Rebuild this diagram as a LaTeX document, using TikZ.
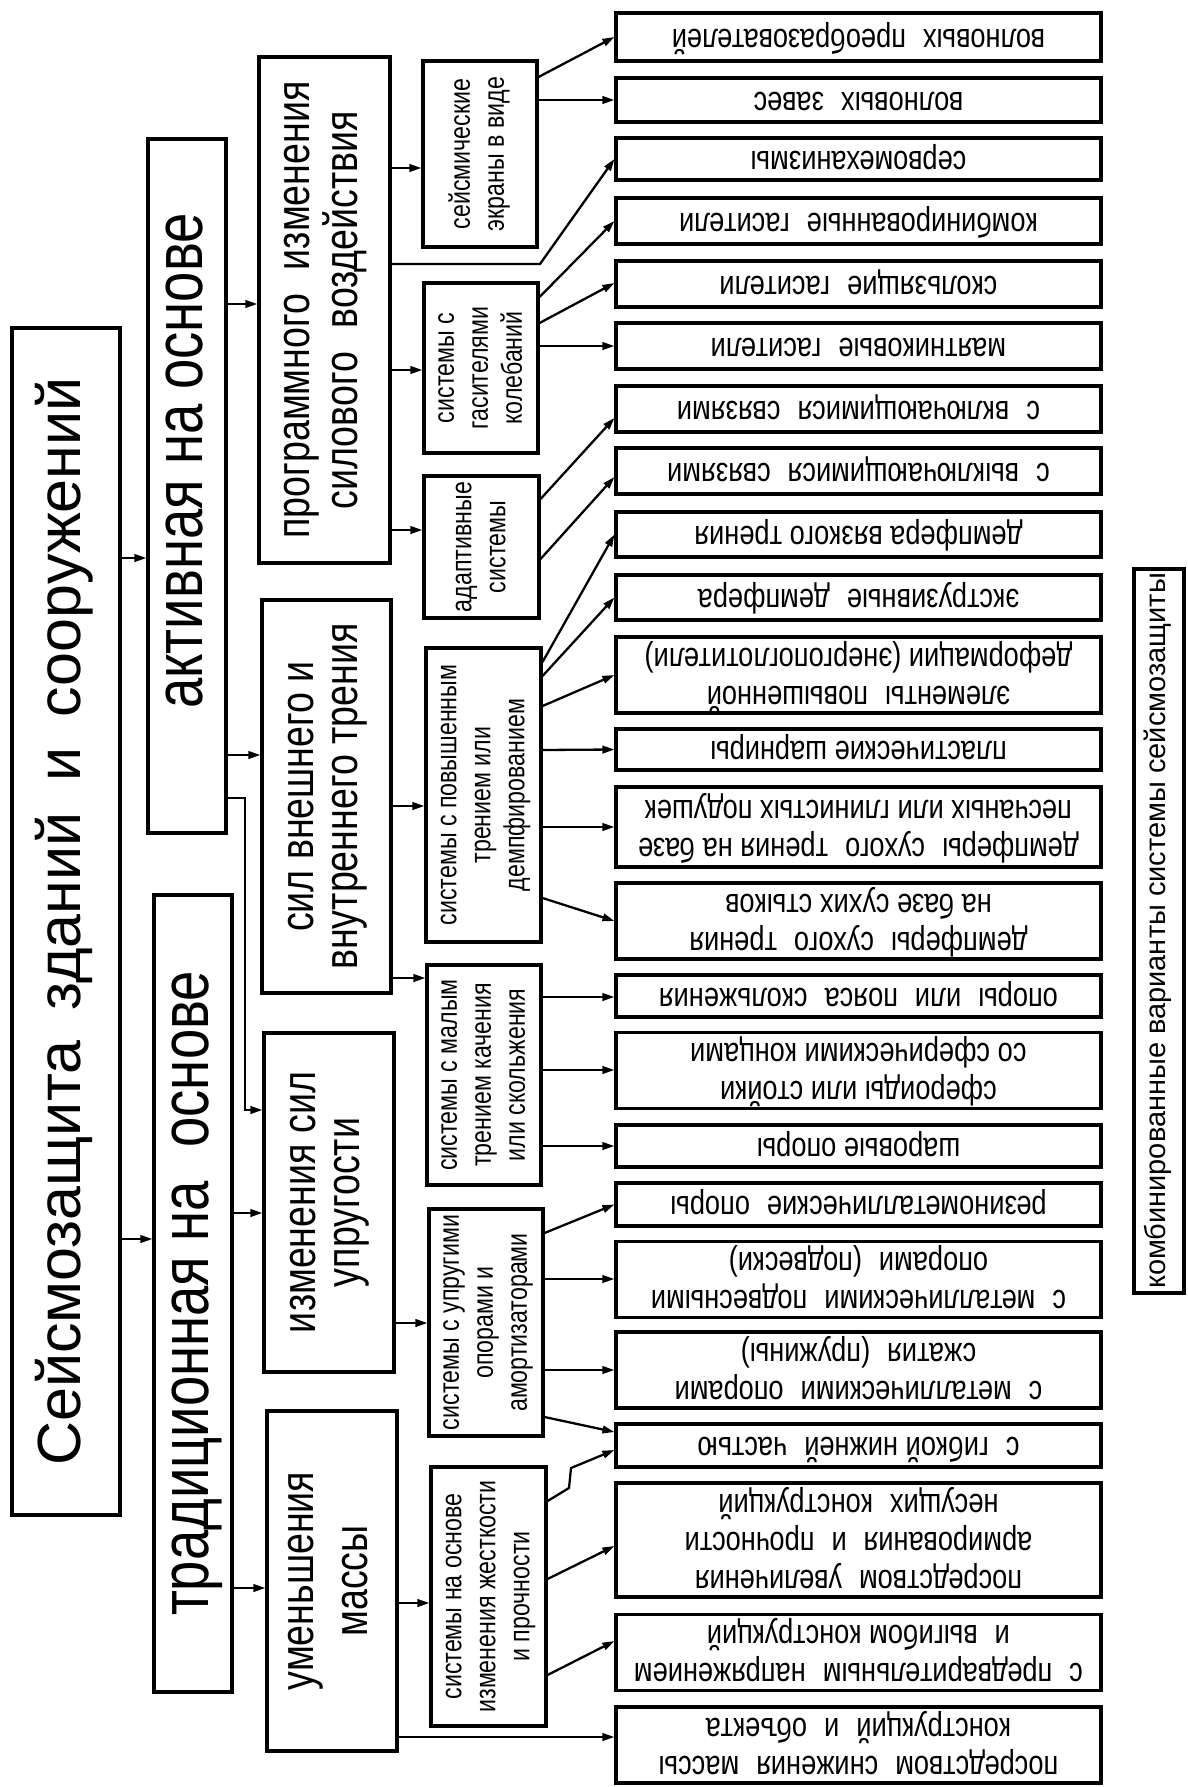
\documentclass[tikz,border=0pt]{standalone}
\usepackage{fontspec}
\setmainfont{Liberation Sans}
\newfontfamily\narrowsans[FakeStretch=0.8]{Liberation Sans}
\usepackage{graphicx}
\usetikzlibrary{arrows.meta}
\newcommand\ftitle{\fontsize{61}{70}\selectfont}
\newcommand\fone{\narrowsans\fontsize{68}{76}\selectfont}
\newcommand\ftwo{\narrowsans\fontsize{47}{44}\selectfont}
\newcommand\fthree{\narrowsans\fontsize{29}{34}\selectfont}
\newcommand\fright{\narrowsans\fontsize{34}{38}\selectfont}
\newcommand\fcomb{\fontsize{29}{34}\selectfont}
\newcommand\wsp{\hspace{0.5em}}
\newcommand\up[1]{\rotatebox{90}{\begin{tabular}{@{}c@{}}#1\end{tabular}}}
\newcommand\down[1]{\rotatebox{180}{\begin{tabular}{@{}c@{}}#1\end{tabular}}}

\begin{document}
\begin{tikzpicture}[x=1pt,y=-1pt,
    box/.style={draw,line width=3.1pt,inner sep=0pt},
    rbox/.style={box,minimum width=485pt,font=\fright},
    link/.style={line width=2.3pt,-{Triangle[length=12pt,width=7.5pt]}}]
  \fill[white] (0,0) rectangle (1187,1787);
  \useasboundingbox (0,0) rectangle (1187,1787);

  % title and the two main branches
  \path
  (66,921.5) node[box,minimum width=108pt,minimum height=1187pt,font=\ftitle] (title)
    {\up{Сейсмозащита\wsp зданий\wsp и\wsp сооружений}}
  (187,486) node[box,minimum width=78pt,minimum height=694pt,font=\fone] (akt)
    {\up{\hspace{50pt}активная на основе}}
  (193,1293.5) node[box,minimum width=78pt,minimum height=797pt,font=\fone] (trad)
    {\up{традиционная на\wsp основе}}
  ;

  % second level
  \path
  (324.5,310) node[box,minimum width=131pt,minimum height=506pt,font=\ftwo] (prog)
    {\up{программного\wsp изменения\\ силового\wsp воздействия}}
  (326.5,796.5) node[box,minimum width=129pt,minimum height=393pt,font=\ftwo] (sil)
    {\up{сил внешнего и\\ внутреннего трения}}
  (329,1202.5) node[box,minimum width=130pt,minimum height=339pt,font=\ftwo] (upr)
    {\up{изменения сил\\ упругости}}
  (332,1581) node[box,minimum width=130pt,minimum height=340pt,font=\ftwo] (umen)
    {\up{уменьшения\\[10pt] массы}}
  ;

  % third level
  \path
  (480,154) node[box,minimum width=114pt,minimum height=186pt,font=\fthree] (seism)
    {\up{сейсмические\\ экраны в виде}}
  (481,368) node[box,minimum width=114pt,minimum height=170pt,font=\fthree] (gas)
    {\up{системы с\\ гасителями\\ колебаний}}
  (481.5,547) node[box,minimum width=115pt,minimum height=142pt,font=\fthree] (adapt)
    {\up{адаптивные\\ системы}}
  (483.5,795) node[box,minimum width=115pt,minimum height=294pt,font=\fthree] (povysh)
    {\up{системы с повышенным\\ трением или\\ демпфированием}}
  (484,1075) node[box,minimum width=114pt,minimum height=220pt,font=\fthree] (malym)
    {\up{системы с малым\\ трением качения\\ или скольжения}}
  (486,1322.5) node[box,minimum width=114pt,minimum height=227pt,font=\fthree] (uprug)
    {\up{системы с упругими\\ опорами и\\ амортизаторами}}
  (488.5,1596.5) node[box,minimum width=115pt,minimum height=259pt,font=\fthree] (zhestk)
    {\up{системы на основе\\ изменения жесткости\\ и прочности}}
  ;

  % right column, printed upside down
  \path
  (858.5,37) node[rbox,minimum height=48pt] (r1) {\down{волновых\wsp преобразователей}}
  (858.5,100) node[rbox,minimum height=44pt] (r2) {\down{волновых\wsp завес}}
  (858.5,159) node[rbox,minimum height=42pt] (r3) {\down{сервомеханизмы}}
  (858.5,221) node[rbox,minimum height=46pt] (r4) {\down{комбинированные\wsp гасители}}
  (858.5,284) node[rbox,minimum height=46pt] (r5) {\down{скользящие\wsp гасители}}
  (858.5,346) node[rbox,minimum height=46pt] (r6) {\down{маятниковые\wsp гасители}}
  (858.5,409) node[rbox,minimum height=46pt] (r7) {\down{с\wsp включающимися\wsp связями}}
  (858.5,471) node[rbox,minimum height=46pt] (r8) {\down{с\wsp выключающимися\wsp связями}}
  (858.5,534.5) node[rbox,minimum height=45pt] (r9) {\down{демпфера вязкого трения}}
  (858.5,597.5) node[rbox,minimum height=45pt] (r10) {\down{экструзивные\wsp демпфера}}
  (858.5,675) node[rbox,minimum height=76pt] (r11)
    {\down{элементы\wsp повышенной\\ деформации (энергопоглотители)}}
  (858.5,749.5) node[rbox,minimum height=41pt] (r12) {\down{пластические шарниры}}
  (858.5,827) node[rbox,minimum height=80pt] (r13)
    {\down{демпферы\wsp сухого\wsp трения на базе\\ песчаных или глинистых подушек}}
  (858.5,921) node[rbox,minimum height=76pt] (r14)
    {\down{демпферы\wsp сухого\wsp трения\\ на базе сухих стыков}}
  (858.5,996) node[rbox,minimum height=42pt] (r15) {\down{опоры\wsp или\wsp пояса\wsp скольжения}}
  (858.5,1070.5) node[rbox,minimum height=75pt] (r16)
    {\down{сфероиды или стойки\\ со сферическими концами}}
  (858.5,1146) node[rbox,minimum height=42pt] (r17) {\down{шаровые опоры}}
  (858.5,1204.5) node[rbox,minimum height=43pt] (r18) {\down{резинометаллические\wsp опоры}}
  (858.5,1279.5) node[rbox,minimum height=75pt] (r19)
    {\down{с\wsp металлическими\wsp подвесными\\ опорами\wsp (подвески)}}
  (858.5,1370) node[rbox,minimum height=74pt] (r20)
    {\down{с\wsp металлическими\wsp опорами\\ сжатия\wsp (пружины)}}
  (858.5,1445.5) node[rbox,minimum height=43pt] (r21) {\down{с\wsp гибкой нижней\wsp частью}}
  (858.5,1540) node[rbox,minimum height=114pt] (r22)
    {\down{посредством\wsp увеличения\\ армирования\wsp и\wsp прочности\\ несущих\wsp конструкций}}
  (858.5,1652.5) node[rbox,minimum height=75pt] (r23)
    {\down{с\wsp предварительным\wsp напряжением\\ и\wsp выгибом конструкций}}
  (858.5,1745) node[rbox,minimum height=76pt] (r24)
    {\down{посредством\wsp снижения\wsp массы\\ конструкций\wsp и\wsp объекта}}
  ;

  \node[box,minimum width=50pt,minimum height=724pt,font=\fcomb] (comb) at (1159,931)
    {\up{комбинированные варианты системы сейсмозащиты}};

  % links between levels
  \draw[link] (title.east |- 0,558) -- (akt.west |- 0,558);
  \draw[link] (title.east |- 0,1239) -- (trad.west |- 0,1239);
  \draw[link] (akt.east |- 0,304) -- (prog.west |- 0,304);
  \draw[link] (akt.east |- 0,755) -- (sil.west |- 0,755);
  \draw[link] (akt.east |- 0,798) -- (245,798) -- (245,1110) -- (upr.west |- 0,1110);
  \draw[link] (trad.east |- 0,1213) -- (upr.west |- 0,1213);
  \draw[link] (trad.east |- 0,1588) -- (umen.west |- 0,1588);
  \draw[link] (prog.east |- 0,168) -- (seism.west |- 0,168);
  \draw[link] (prog.east |- 0,370) -- (gas.west |- 0,370);
  \draw[link] (prog.east |- 0,530) -- (adapt.west |- 0,530);
  \draw[link] (prog.east |- 0,264) -- (540,264) -- (r3.west);
  \draw[link] (sil.east |- 0,806) -- (povysh.west |- 0,806);
  \draw[link] (sil.east |- 0,978) -- (malym.west |- 0,978);
  \draw[link] (upr.east |- 0,1323) -- (uprug.west |- 0,1323);
  \draw[link] (umen.east |- 0,1603) -- (zhestk.west |- 0,1603);
  \draw[link] (umen.east |- 0,1737) -- (r24.west |- 0,1737);

  % links into the right column
  \draw[link] (seism.east |- 0,77) -- (r1.west);
  \draw[link] (seism.east |- 0,100) -- (r2.west);
  \draw[link] (gas.east |- 0,297) -- (r4.west);
  \draw[link] (gas.east |- 0,323) -- (r5.west |- 0,283);
  \draw[link] (gas.east |- 0,346) -- (r6.west);
  \draw[link] (adapt.east |- 0,499) -- (r7.west |- 0,418);
  \draw[link] (adapt.east |- 0,559) -- (r8.west |- 0,477);
  \draw[link] (povysh.east |- 0,662) -- (r9.west);
  \draw[link] (povysh.east |- 0,676) -- (r10.west);
  \draw[link] (povysh.east |- 0,706) -- (r11.west);
  \draw[link] (povysh.east |- 0,750) -- (r12.west);
  \draw[link] (povysh.east |- 0,827) -- (r13.west);
  \draw[link] (povysh.east |- 0,898) -- (r14.west);
  \draw[link] (malym.east |- 0,997) -- (r15.west |- 0,997);
  \draw[link] (malym.east |- 0,1070) -- (r16.west |- 0,1070);
  \draw[link] (malym.east |- 0,1146) -- (r17.west |- 0,1146);
  \draw[link] (uprug.east |- 0,1233) -- (r18.west);
  \draw[link] (uprug.east |- 0,1279) -- (r19.west |- 0,1279);
  \draw[link] (uprug.east |- 0,1370) -- (r20.west |- 0,1370);
  \draw[link] (uprug.east |- 0,1417) -- (r21.west |- 0,1432);
  \draw[link] (zhestk.east |- 0,1501) -- (569,1488) -- (571,1468) -- (r21.west |- 0,1450);
  \draw[link] (zhestk.east |- 0,1579) -- (r22.west |- 0,1546);
  \draw[link] (zhestk.east |- 0,1675) -- (r23.west |- 0,1641);
\end{tikzpicture}
\end{document}
